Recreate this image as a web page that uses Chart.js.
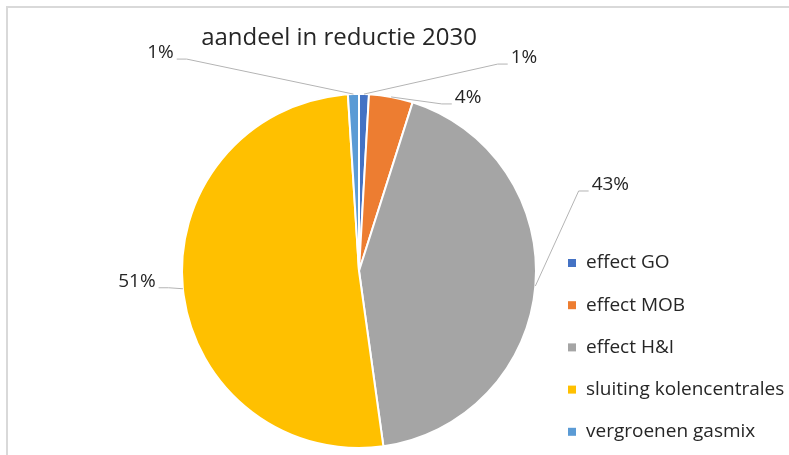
<!DOCTYPE html>
<html>
<head>
<meta charset="utf-8">
<script src="https://cdn.jsdelivr.net/npm/chart.js@4/dist/chart.umd.min.js"></script>
<style>
  html, body { margin: 0; padding: 0; background: #fff; }
  #wrap { position: relative; width: 789px; height: 455px; overflow: hidden; }
  canvas { display: block; }
</style>
</head>
<body>
<div id="wrap"><canvas id="c" width="789" height="455"></canvas></div>
<script>
// ---- data ----
const chartTitle = 'aandeel in reductie 2030';
const categories = ['effect GO', 'effect MOB', 'effect H&I', 'sluiting kolencentrales', 'vergroenen gasmix'];
const shares = [0.9, 4.0, 42.9, 51.2, 1.0];
const sliceColors = ['#4472C4', '#ED7D31', '#A5A5A5', '#FFC000', '#5B9BD5'];

// label placement (offset of label centre from slice edge midpoint), styles
const labelOffsets = [[160, -36], [77, 1], [75, -101], [-46, -7], [-193, -41]];
const textColor = '#262626';
const fontFam = '"Open Sans", "DejaVu Sans", sans-serif';

const decor = {
  id: 'decor',
  beforeDraw(chart) {
    const ctx = chart.ctx;
    ctx.save();
    ctx.strokeStyle = '#d9d9d9';
    ctx.lineWidth = 2;
    ctx.strokeRect(7, 7, 900, 600);
    ctx.restore();
  },
  afterDraw(chart) {
    const ctx = chart.ctx;
    const meta = chart.getDatasetMeta(0);
    const data = chart.data.datasets[0].data;
    const total = data.reduce((a, b) => a + b, 0);
    ctx.save();
    // title
    ctx.fillStyle = textColor;
    ctx.font = '24px ' + fontFam;
    ctx.textAlign = 'center';
    ctx.textBaseline = 'middle';
    ctx.fillText(chartTitle, 339, 38);
    // data labels with leader lines
    ctx.font = '19px ' + fontFam;
    meta.data.forEach((arc, i) => {
      const p = arc.getProps(['x', 'y', 'startAngle', 'endAngle', 'outerRadius'], true);
      const mid = (p.startAngle + p.endAngle) / 2;
      const ex = p.x + Math.cos(mid) * p.outerRadius;
      const ey = p.y + Math.sin(mid) * p.outerRadius;
      const lx = ex + labelOffsets[i][0];
      const ly = ey + labelOffsets[i][1];
      const txt = Math.round(data[i] / total * 100) + '%';
      const w = ctx.measureText(txt).width;
      const right = lx > ex;
      const endX = right ? lx - w / 2 - 3 : lx + w / 2 + 3;
      const elbowX = right ? endX - 10 : endX + 10;
      const lineY = ly + 6;
      ctx.strokeStyle = '#B4B4B4';
      ctx.lineWidth = 1;
      ctx.beginPath();
      ctx.moveTo(ex, ey);
      ctx.lineTo(elbowX, lineY);
      ctx.lineTo(endX, lineY);
      ctx.stroke();
      ctx.fillStyle = textColor;
      ctx.textAlign = 'center';
      ctx.textBaseline = 'middle';
      ctx.fillText(txt, lx, ly);
    });
    // legend
    ctx.font = '19px ' + fontFam;
    ctx.textAlign = 'left';
    ctx.textBaseline = 'middle';
    chart.data.labels.forEach((lab, i) => {
      const y = 263 + i * 42.2;
      ctx.fillStyle = sliceColors[i];
      ctx.fillRect(568, y - 4, 8, 8);
      ctx.fillStyle = textColor;
      ctx.fillText(lab, 586, y);
    });
    ctx.restore();
  }
};

new Chart(document.getElementById('c'), {
  type: 'pie',
  data: {
    labels: categories,
    datasets: [{
      data: shares,
      backgroundColor: sliceColors,
      borderColor: '#ffffff',
      borderWidth: 2
    }]
  },
  options: {
    responsive: false,
    animation: false,
    layout: { padding: { top: 93, bottom: 6, left: 181, right: 252 } },
    plugins: {
      legend: { display: false },
      title: { display: false },
      tooltip: { enabled: false }
    }
  },
  plugins: [decor]
});
</script>
</body>
</html>
